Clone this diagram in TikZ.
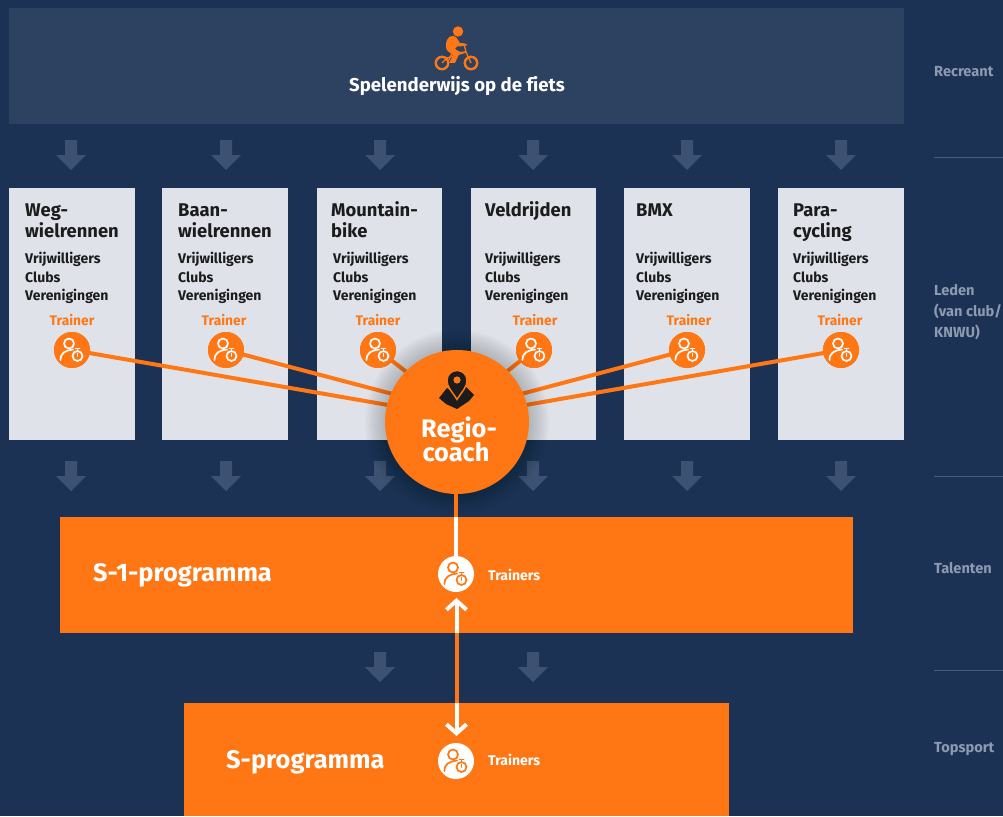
\documentclass[tikz,border=0pt]{standalone}
\usepackage{fontspec}
\setmainfont{Fira Sans}[Ligatures=NoCommon]
\usetikzlibrary{arrows.meta}
\definecolor{bgblue}{HTML}{1B3255}
\definecolor{bandblue}{HTML}{2D4260}
\definecolor{arrowblue}{HTML}{3D5272}
\definecolor{boxgrey}{HTML}{DFE3E9}
\definecolor{orng}{HTML}{FF7615}
\definecolor{ink}{HTML}{1C1C1C}
\definecolor{sidegrey}{HTML}{8E9AAF}
\definecolor{ruleblue}{HTML}{4A5C7A}
\tikzset{
  sport/.style={fill=boxgrey,draw=none,minimum width=126,minimum height=252,anchor=north west,inner sep=0},
  program/.style={fill=orng,draw=none,inner sep=0,anchor=north west},
  tcircle/.style={circle,fill=orng,minimum size=36,inner sep=0},
  wcircle/.style={circle,fill=white,minimum size=36,inner sep=0},
  heading/.style={anchor=base west,text=ink,font=\bfseries\fontsize{18.4}{21}\selectfont,inner sep=0},
  subtext/.style={anchor=base west,text=ink,font=\bfseries\fontsize{14}{16}\selectfont,inner sep=0},
  trainerlabel/.style={anchor=base,text=orng,font=\bfseries\fontsize{13.8}{16}\selectfont,inner sep=0},
  sidelabel/.style={anchor=base west,text=sidegrey,font=\bfseries\fontsize{14.6}{16}\selectfont,inner sep=0},
  whitelabel/.style={anchor=base west,text=white,font=\bfseries\fontsize{14}{16}\selectfont,inner sep=0},
  biglabel/.style={text=white,font=\bfseries\fontsize{25.4}{27}\selectfont,inner sep=0},
  downarrow/.style={draw=none,fill=arrowblue},
  conn/.style={draw=orng,line width=4},
  whiteconn/.style={draw=white,line width=4},
  orangeconn/.style={draw=orng,line width=4},
  sideline/.style={draw=ruleblue,line width=.8},
  pics/trainericon/.style={code={
    \draw[#1,line width=1.7,line cap=round] (-3,-6.5) circle[radius=5];
    \draw[#1,line width=1.7,line cap=round] (-11.5,10) .. controls (-11.5,3) and (-7,.5) .. (1,-.5);
    \draw[#1,line width=1.7] (5.5,6) circle[radius=5];
    \draw[#1,line width=1.7,line cap=round] (3.5,-1.5) -- (7.5,-1.5) (5.5,-1.5) -- (5.5,1) (5.5,6) -- (5.5,3.5);
  }},
  pics/trainericon/.default=white
}
\newcommand{\dnarrow}[2]{\fill[downarrow] (#1-6,#2) -- (#1+6,#2) -- (#1+6,#2+15) -- (#1+15,#2+15) -- (#1,#2+30) -- (#1-15,#2+15) -- (#1-6,#2+15) -- cycle;}
\begin{document}
\begin{tikzpicture}[x=1pt,y=-1pt]
\useasboundingbox (0,0) rectangle (1003,816);
\fill[bgblue] (0,0) rectangle (1003,816);
% top band
\node[fill=bandblue,minimum width=895,minimum height=116,anchor=north west,inner sep=0] (top) at (9,8) {};
\node[anchor=base,text=white,font=\bfseries\fontsize{18.6}{20}\selectfont,inner sep=0] (toplabel) at (457,92) {Spelenderwijs op de fiets};
% bike icon
\begin{scope}
  \fill[orng] (458,31.5) circle[radius=5.2];
  \draw[orng,line width=2.4] (442,63) circle[radius=6.2] (471,63) circle[radius=6.2];
  \draw[orng,line width=1.3] (442,63) -- (447,58) -- (466,52) -- (471,63) (466,52) -- (464,44) (461,44) -- (467,45) (466,52) -- (452,53) -- (449,60);
  \fill[orng] (446,45) .. controls (446,37) and (452,34) .. (456,37) -- (460,43) -- (465,43.5) -- (465,46) -- (457,46.5) -- (455,49) -- (460,52) -- (455,63) -- (449,63) -- (453,55) -- (449,52) .. controls (446,50) and (446,48) .. (446,45) -- cycle;
\end{scope}
% down arrows
\foreach \x in {71,226,380,533,687,841}{ \dnarrow{\x}{140} \dnarrow{\x}{461} }
\dnarrow{380}{652}
\dnarrow{533}{652}
% sport boxes
\node[sport] (b1) at (9,188) {};
\node[sport] (b2) at (162,188) {};
\node[sport,minimum width=125] (b3) at (317,188) {};
\node[sport,minimum width=125] (b4) at (471,188) {};
\node[sport] (b5) at (624,188) {};
\node[sport] (b6) at (778,188) {};
% headings
\node[heading] (h1a) at (25,216) {Weg-};
\node[heading] (h1b) at (25,237) {wielrennen};
\node[heading] (h2a) at (178,216) {Baan-};
\node[heading] (h2b) at (178,237) {wielrennen};
\node[heading] (h3a) at (331,216) {Mountain-};
\node[heading] (h3b) at (331,237) {bike};
\node[heading] (h4a) at (485,216) {Veldrijden};
\node[heading] (h5a) at (636,216) {BMX};
\node[heading] (h6a) at (793,216) {Para-};
\node[heading] (h6b) at (793,237) {cycling};
% subtext
\foreach \i/\x in {1/25,2/178,3/333,4/485,5/636,6/793}{
  \node[subtext] (v\i) at (\x,263) {Vrijwilligers};
  \node[subtext] (c\i) at (\x,282) {Clubs};
  \node[subtext] (r\i) at (\x,300) {Verenigingen};
}
% trainer labels
\foreach \i/\x in {1/72,2/224,3/378,4/535,5/689,6/840}{
  \node[trainerlabel] (l\i) at (\x,325) {Trainer};
}
% trainer circles
\foreach \i/\x in {1/72,2/226,3/378,4/534,5/687,6/841}{
  \node[tcircle] (t\i) at (\x,350) {};
}
\coordinate (hubinner) at (457,411);
\coordinate (hubouter) at (457,417);
\foreach \i in {1,6}{ \draw[conn] (t\i.center) -- (hubouter); }
\foreach \i in {2,3,4,5}{ \draw[conn] (t\i.center) -- (hubinner); }
\foreach \i/\x in {1/72,2/226,3/378,4/534,5/687,6/841}{
  \node[tcircle] at (\x,350) {};
  \pic at (\x,350) {trainericon};
}
% programme boxes
\node[program,minimum width=793,minimum height=116] (s1) at (60,517) {};
\node[program,minimum width=545,minimum height=113] (s) at (184,703) {};
\node[biglabel,anchor=base west] (s1l) at (93,581) {S-1-programma};
\node[biglabel,anchor=base west] (sl) at (226,768) {S-programma};
% connections
\node[wcircle] (w1) at (456,574) {};
\node[wcircle] (w2) at (456,761) {};
\pic at (456,574) {trainericon=orng};
\pic at (456,761) {trainericon=orng};
\node[whitelabel] (w1l) at (488,580) {Trainers};
\node[whitelabel] (w2l) at (488,765) {Trainers};
\coordinate (up) at (456.5,598);
\coordinate (dn) at (456.5,736);
\coordinate (s1b) at (456.5,633);
\coordinate (stop) at (456.5,703);
\draw[whiteconn,{Straight Barb[length=9,width=20]}-] (up) -- (s1b);
\draw[orangeconn] (s1b) -- (stop);
\draw[whiteconn,-{Straight Barb[length=9,width=20]}] (stop) -- (dn);
% regio coach
\foreach \r in {92,90,...,74}{ \fill[black,opacity=.02] (457,422) circle[radius=\r]; }
\node[circle,fill=orng,minimum size=144,inner sep=0] (regio) at (457,422) {};
\coordinate (s1t) at (456,517);
\draw[orangeconn] (regio.south) ++(-1,0) -- (s1t);
\draw[whiteconn] (s1t) -- (w1);
\node[biglabel,anchor=base] (ra) at (459,437) {Regio-};
\node[biglabel,anchor=base] (rb) at (456,461) {coach};
% map pin
\fill[ink] (439,398) -- (447,388) -- (452,392) -- (462,392) -- (466,387) -- (474,395) -- (469,401) -- (457,409) -- (446,404) -- cycle;
\draw[orng,line width=1.5,fill=ink] (457,399.5) .. controls (451,390) and (447,387) .. (447,380.5) .. controls (447,374.5) and (451.5,370.5) .. (457,370.5) .. controls (462.5,370.5) and (467,374.5) .. (467,380.5) .. controls (467,387) and (463,390) .. (457,399.5) -- cycle;
\fill[orng] (457,380) circle[radius=3.6];
% side labels
\node[sidelabel] (sr) at (934,76) {Recreant};
\node[sidelabel] (sl1) at (934,295) {Leden};
\node[sidelabel] (sl2) at (934,316) {(van club/};
\node[sidelabel] (sl3) at (934,337) {KNWU)};
\node[sidelabel] (st) at (934,573) {Talenten};
\node[sidelabel] (sp) at (934,752) {Topsport};
\coordinate (la) at (934,157); \coordinate (lae) at (1003,157);
\coordinate (lb) at (934,476); \coordinate (lbe) at (1003,476);
\coordinate (lc) at (934,670); \coordinate (lce) at (1003,670);
\draw[sideline] (la) -- (lae);
\draw[sideline] (lb) -- (lbe);
\draw[sideline] (lc) -- (lce);
\end{tikzpicture}
\end{document}
